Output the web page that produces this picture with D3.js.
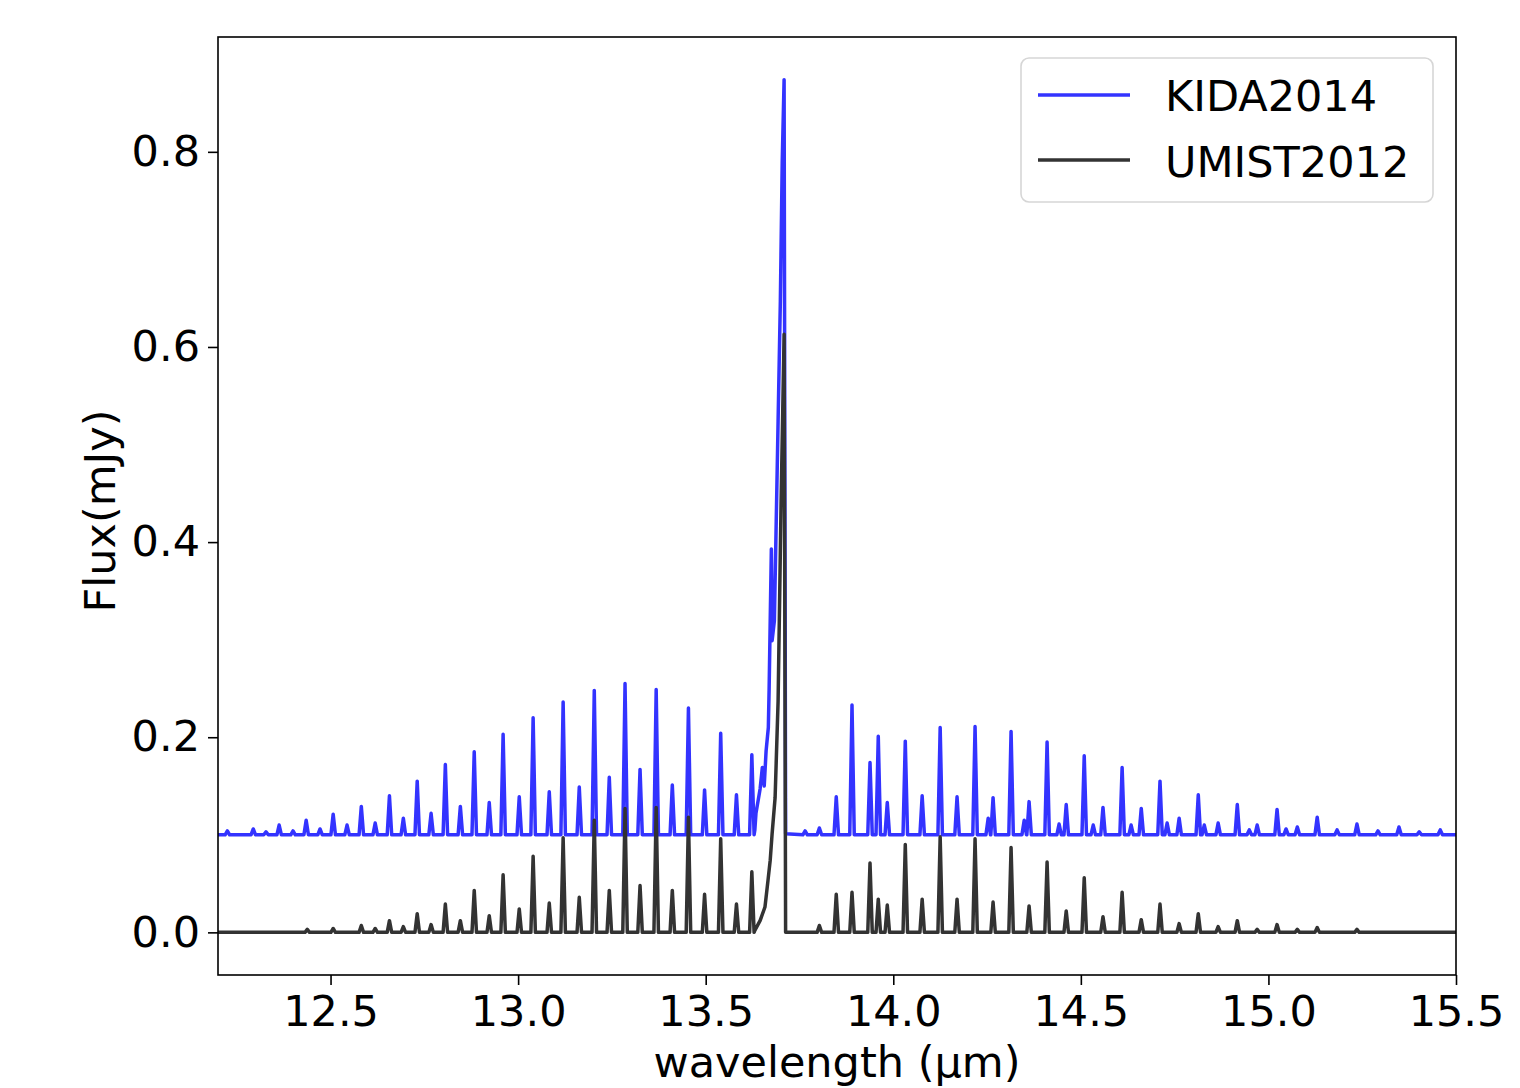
<!DOCTYPE html>
<html>
<head>
<meta charset="utf-8">
<script src="https://cdn.jsdelivr.net/npm/d3@7"></script>
<style>
  body { margin: 0; background: #fff; }
  text { font-family: "DejaVu Sans", sans-serif; }
</style>
</head>
<body>
<div id="my_dataviz"></div>
<script>
// tick values
var xTicks = [12.5, 13.0, 13.5, 14.0, 14.5, 15.0, 15.5];
var yTicks = [0.0, 0.2, 0.4, 0.6, 0.8];

// series names and baselines (mJy)
var seriesNames = ["KIDA2014", "UMIST2012"];
var kidaBase = 0.1;
var umistBase = 0.0;

// KIDA2014: narrow lines (wavelength in um, peak flux in mJy)
var kidaWave = [12.225, 12.294, 12.328, 12.363, 12.400, 12.435, 12.472, 12.507, 12.544, 12.582,
  12.619, 12.657, 12.694, 12.731, 12.768, 12.806, 12.846, 12.883, 12.923, 12.960,
  13.003, 13.040, 13.083, 13.120, 13.163, 13.203, 13.243, 13.285, 13.325, 13.368,
  13.411, 13.454, 13.497, 13.540, 13.582, 13.623,
  13.765, 13.803, 13.848, 13.890, 13.938, 13.960, 13.984, 14.032, 14.077, 14.125,
  14.170, 14.218, 14.253, 14.266, 14.314, 14.349, 14.362, 14.410, 14.442, 14.461,
  14.509, 14.533, 14.559, 14.610, 14.634, 14.661, 14.711, 14.730, 14.762, 14.813,
  14.829, 14.866, 14.917, 14.949, 14.970, 15.023, 15.047, 15.077, 15.130, 15.183,
  15.236, 15.292, 15.348, 15.402, 15.458];
var kidaFlux = [0.104, 0.106, 0.103, 0.110, 0.104, 0.115, 0.106, 0.121, 0.110, 0.129,
  0.112, 0.140, 0.117, 0.155, 0.122, 0.172, 0.129, 0.185, 0.133, 0.203,
  0.139, 0.220, 0.144, 0.236, 0.149, 0.248, 0.159, 0.255, 0.167, 0.249,
  0.151, 0.230, 0.146, 0.204, 0.141, 0.182,
  0.104, 0.107, 0.139, 0.233, 0.174, 0.201, 0.133, 0.196, 0.140, 0.210,
  0.139, 0.211, 0.117, 0.138, 0.206, 0.115, 0.134, 0.195, 0.111, 0.131,
  0.181, 0.110, 0.128, 0.169, 0.110, 0.127, 0.155, 0.112, 0.117, 0.141,
  0.110, 0.112, 0.131, 0.105, 0.110, 0.126, 0.106, 0.108, 0.118, 0.105,
  0.111, 0.104, 0.108, 0.103, 0.105];
// KIDA2014: central Q branch profile
var kidaQWave = [13.631, 13.634, 13.645, 13.651, 13.656, 13.661, 13.667, 13.669, 13.675, 13.677,
  13.683, 13.688, 13.693, 13.699, 13.704, 13.709, 13.713];
var kidaQFlux = [0.105, 0.122, 0.147, 0.169, 0.150, 0.186, 0.210, 0.248, 0.393, 0.299,
  0.319, 0.421, 0.524, 0.647, 0.790, 0.874, 0.101];

// UMIST2012: narrow lines
var umistWave = [12.438, 12.507, 12.582, 12.619, 12.657, 12.694, 12.731, 12.768, 12.806, 12.846,
  12.883, 12.923, 12.960, 13.003, 13.040, 13.083, 13.120, 13.163, 13.203, 13.243,
  13.285, 13.325, 13.368, 13.411, 13.454, 13.497, 13.540, 13.582, 13.623,
  13.803, 13.848, 13.890, 13.938, 13.960, 13.984, 14.032, 14.077, 14.125, 14.170,
  14.218, 14.266, 14.314, 14.362, 14.410, 14.461, 14.509, 14.559, 14.610, 14.661,
  14.711, 14.762, 14.813, 14.866, 14.917, 14.970, 15.023, 15.077, 15.130, 15.236];
var umistFlux = [0.003, 0.004, 0.007, 0.004, 0.012, 0.006, 0.019, 0.008, 0.029, 0.012,
  0.043, 0.017, 0.059, 0.024, 0.078, 0.030, 0.097, 0.036, 0.115, 0.043,
  0.127, 0.048, 0.128, 0.043, 0.118, 0.039, 0.096, 0.029, 0.062,
  0.007, 0.039, 0.041, 0.071, 0.034, 0.028, 0.090, 0.034, 0.098, 0.034,
  0.096, 0.031, 0.087, 0.027, 0.072, 0.022, 0.056, 0.016, 0.041, 0.013,
  0.029, 0.009, 0.019, 0.006, 0.012, 0.003, 0.008, 0.003, 0.005, 0.003];
// UMIST2012: central Q branch profile
var umistQWave = [13.631, 13.645, 13.658, 13.666, 13.672, 13.677, 13.685, 13.693, 13.701, 13.709, 13.713];
var umistQFlux = [0.002, 0.012, 0.026, 0.053, 0.074, 0.101, 0.138, 0.237, 0.442, 0.613, 0.0];

// set the dimensions and margins of the graph
var margin = {top: 37, right: 64, bottom: 113, left: 218},
  width = 1520 - margin.left - margin.right,
  height = 1088 - margin.top - margin.bottom;

var svg = d3.select("#my_dataviz")
  .append("svg")
    .attr("width", 1520)
    .attr("height", 1088)
  .append("g")
    .attr("transform", "translate(" + margin.left + "," + margin.top + ")");

var x = d3.scaleLinear().domain([12.2, 15.5]).range([0, width]);
var y = d3.scaleLinear().domain([-0.0437, 0.9177]).range([height, 0]);

// turn peak lists into a spectrum: baseline -> peak -> baseline for each line
function spectrum(base, waves, fluxes, qWaves, qFluxes) {
  var pts = [[12.2, base]];
  waves.forEach(function(w, i) {
    pts.push([w - 0.006, base], [w, fluxes[i]], [w + 0.006, base]);
  });
  qWaves.forEach(function(w, i) { pts.push([w, qFluxes[i]]); });
  pts.push([15.5, base]);
  return pts.sort(function(a, b) { return a[0] - b[0]; });
}

var kida = spectrum(kidaBase, kidaWave, kidaFlux, kidaQWave, kidaQFlux);
var umist = spectrum(umistBase, umistWave, umistFlux, umistQWave, umistQFlux);
var colors = ["#3333ff", "#333333"];

var line = d3.line()
  .x(function(d) { return x(d[0]); })
  .y(function(d) { return y(d[1]); });

svg.append("defs").append("clipPath").attr("id", "clip")
  .append("rect").attr("width", width).attr("height", height);

[kida, umist].forEach(function(s, i) {
  svg.append("path")
    .datum(s)
    .attr("clip-path", "url(#clip)")
    .attr("fill", "none")
    .attr("stroke", colors[i])
    .attr("stroke-width", 3.5)
    .attr("stroke-linejoin", "round")
    .attr("d", line);
});

// X axis
var xAxis = svg.append("g")
  .attr("transform", "translate(0," + height + ")")
  .call(d3.axisBottom(x).tickValues(xTicks).tickFormat(d3.format(".1f")).tickSize(10).tickSizeOuter(0).tickPadding(8));
xAxis.selectAll("text").style("font-size", "43px").attr("fill", "#000").attr("dy", "0.77em");

// Y axis
var yAxis = svg.append("g")
  .call(d3.axisLeft(y).tickValues(yTicks).tickFormat(d3.format(".1f")).tickSize(10).tickSizeOuter(0).tickPadding(8));
yAxis.selectAll("text").style("font-size", "43px").attr("fill", "#000");

svg.selectAll(".domain").remove();
svg.selectAll(".tick line").attr("stroke", "#000").attr("stroke-width", 1.6);

// frame
svg.append("rect")
  .attr("width", width).attr("height", height)
  .attr("fill", "none").attr("stroke", "#000").attr("stroke-width", 1.6);

// axis labels
svg.append("text")
  .attr("x", width / 2).attr("y", height + 102)
  .attr("text-anchor", "middle")
  .style("font-size", "43px")
  .text("wavelength (\u03bcm)");

svg.append("text")
  .attr("transform", "translate(" + (-103) + "," + (height / 2 + 5) + ")rotate(-90)")
  .attr("text-anchor", "middle")
  .style("font-size", "43px")
  .text("Flux(mJy)");

// legend
var legend = svg.append("g").attr("transform", "translate(" + (1021 - margin.left) + "," + (58 - margin.top) + ")");
legend.append("rect")
  .attr("width", 412).attr("height", 144)
  .attr("rx", 8)
  .attr("fill", "#fff").attr("fill-opacity", 0.8)
  .attr("stroke", "#d6d6d6").attr("stroke-width", 1.6);
seriesNames.forEach(function(name, i) {
  legend.append("line")
    .attr("x1", 17).attr("x2", 109)
    .attr("y1", 37 + i * 65).attr("y2", 37 + i * 65)
    .attr("stroke", colors[i]).attr("stroke-width", 3.5);
  legend.append("text")
    .attr("x", 144).attr("y", 53 + i * 66)
    .style("font-size", "43px")
    .text(name);
});
</script>
</body>
</html>
